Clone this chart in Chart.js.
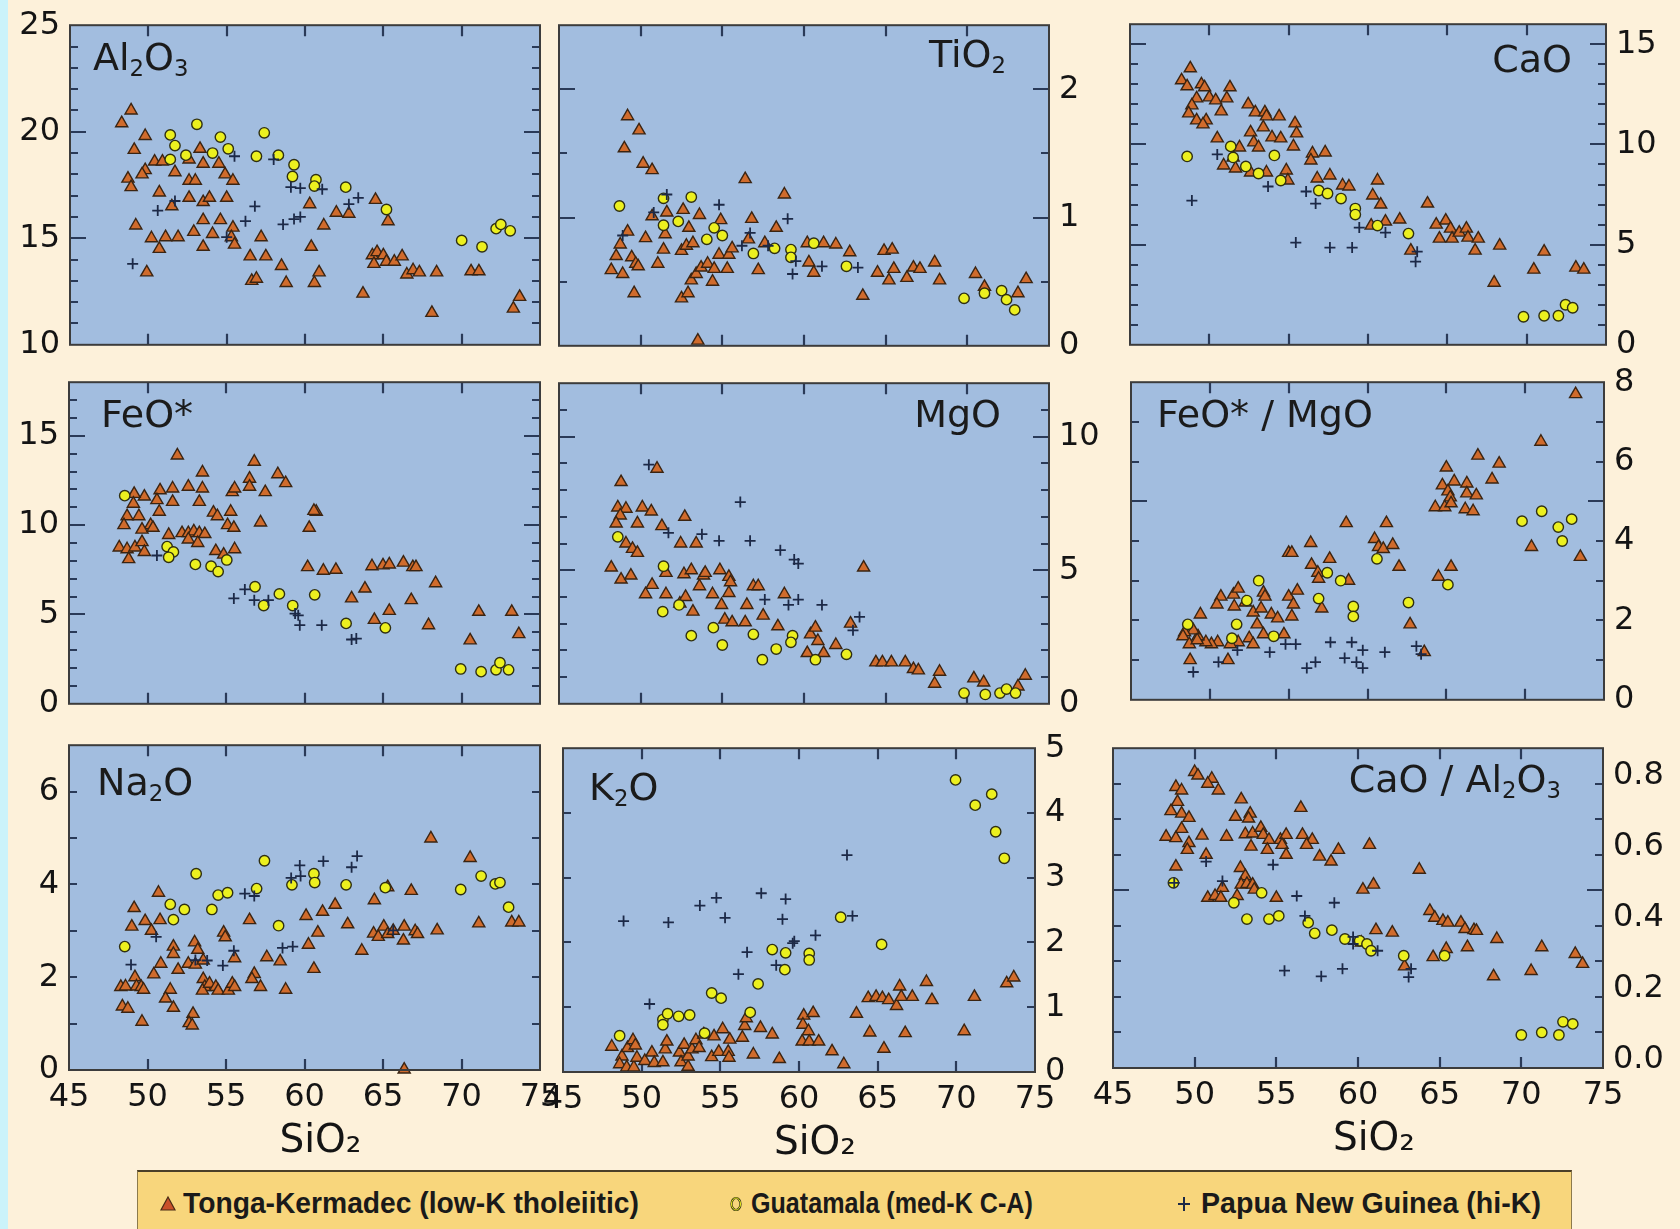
<!DOCTYPE html>
<html><head><meta charset="utf-8">
<script src="https://cdn.jsdelivr.net/npm/chart.js@4.4.1/dist/chart.umd.min.js"></script>
<style>
html,body{margin:0;padding:0;}
body{width:1680px;height:1229px;background:#fdf1da;position:relative;overflow:hidden;font-family:"DejaVu Sans",sans-serif;}
#strip{position:absolute;left:0;top:0;width:8px;height:1229px;background:#cbf3fa;}
canvas{position:absolute;}
.ttl{position:absolute;font-family:"DejaVu Sans",sans-serif;font-size:38px;line-height:38px;color:#1b1b1b;white-space:nowrap;}
.ttl sub{font-size:0.6em;vertical-align:-0.25em;line-height:0;}
#legend{position:absolute;left:137px;top:1170px;width:1433px;height:70px;background:#f8d67c;border-top:2px solid #4b3f28;border-left:1px solid #8c7a4c;border-right:1px solid #8c7a4c;}
.li{position:absolute;top:14px;font-family:"Liberation Sans Narrow","Arial Narrow","Liberation Sans",sans-serif;font-weight:bold;font-size:30px;line-height:34px;color:#1a1a1a;white-space:nowrap;transform-origin:0 50%;}
.lm{position:absolute;top:22px;}
</style>
</head><body>
<div id="strip"></div>
<script>
// ---------------- DATA (SiO2 wt% , oxide) ----------------
const sio2Ticks = [45,50,55,60,65,70,75];
const xMarks = [50,55,60,65,70];

const al2o3Labels = [10,15,20,25];
const al2o3Tonga = [[48.3,20.4],[48.9,21.0],[49.1,19.15],[49.8,19.8],[48.7,17.8],[48.9,17.4],[49.2,15.6],[49.9,13.4],[49.8,18.2],[49.6,18.0],[50.4,18.6],[50.9,18.6],[50.2,15.0],[50.7,14.5],[50.7,17.15],[51.1,15.05],[51.5,16.5],[51.7,18.1],[51.9,15.05],[52.6,16.9],[52.6,17.7],[52.6,18.7],[53.0,17.7],[52.9,15.3],[53.3,19.2],[53.5,18.5],[53.5,16.7],[53.5,15.85],[53.5,14.6],[53.9,16.9],[54.1,15.2],[54.5,18.5],[54.6,15.85],[54.9,18.0],[55.0,16.9],[55.4,17.7],[55.4,15.5],[55.3,15.05],[55.5,14.7],[56.5,14.15],[56.6,13.0],[56.9,13.1],[57.2,15.05],[57.5,14.15],[58.5,13.7],[58.8,12.9],[60.3,16.6],[60.4,14.6],[60.6,12.9],[60.9,13.4],[61.2,15.6],[62.0,16.2],[62.8,16.15],[63.7,12.4],[64.5,16.8],[65.3,15.8],[64.3,14.2],[64.4,13.8],[64.6,14.35],[65.0,14.2],[65.2,13.9],[65.7,13.9],[66.2,14.15],[66.5,13.3],[66.9,13.5],[67.3,13.4],[68.4,13.4],[68.1,11.5],[70.6,13.45],[71.1,13.45],[73.3,11.7],[73.7,12.25]];
const al2o3Guat = [[51.4,19.85],[51.7,19.35],[51.4,18.7],[52.4,18.9],[53.1,20.35],[54.1,19.0],[54.6,19.75],[55.1,19.2],[56.9,18.85],[57.4,19.95],[58.3,18.9],[59.3,18.45],[59.2,17.9],[60.7,17.75],[60.6,17.45],[62.6,17.4],[65.2,16.35],[70.0,14.9],[71.3,14.6],[72.2,15.45],[72.5,15.65],[73.1,15.35]];
const al2o3Png = [[49.0,13.8],[50.6,16.3],[51.7,16.75],[55.5,18.85],[55.0,15.05],[56.2,15.8],[56.8,16.5],[58.0,18.7],[58.6,15.65],[59.3,15.9],[59.7,16.0],[59.1,17.4],[59.7,17.35],[61.1,17.3],[62.8,16.6],[63.4,16.9]];

const tio2Labels = [0,1,2];
const tio2Tonga = [[49.2,1.79],[49.9,1.68],[49.0,1.54],[50.15,1.42],[50.7,1.37],[56.4,1.30],[58.8,1.18],[49.2,0.89],[48.75,0.79],[48.5,0.70],[48.2,0.59],[48.9,0.56],[49.45,0.69],[49.7,0.64],[49.85,0.62],[49.6,0.41],[50.3,0.84],[50.7,1.01],[51.05,0.64],[51.4,0.75],[51.5,0.87],[51.6,1.04],[52.6,1.06],[52.5,0.74],[52.95,0.92],[52.8,0.78],[53.2,0.80],[53.6,1.02],[52.5,0.37],[52.9,0.41],[53.1,0.51],[53.4,0.56],[53.7,0.61],[54.1,0.64],[54.4,0.50],[54.5,0.60],[53.5,0.04],[54.9,0.98],[54.8,0.71],[55.3,0.60],[55.4,0.71],[55.6,0.76],[56.8,0.99],[56.6,0.83],[57.2,0.59],[57.6,0.80],[58.3,0.92],[60.2,0.80],[60.3,0.65],[60.6,0.57],[61.2,0.80],[61.95,0.79],[62.8,0.73],[63.6,0.39],[64.5,0.57],[64.9,0.74],[65.4,0.75],[65.2,0.51],[65.5,0.60],[66.3,0.53],[66.7,0.61],[67.1,0.60],[68.0,0.65],[68.3,0.51],[70.5,0.56],[71.05,0.46],[73.1,0.41],[73.6,0.52]];
const tio2Guat = [[48.7,1.09],[51.4,1.15],[53.1,1.16],[51.4,0.94],[52.3,0.97],[54.05,0.83],[54.5,0.92],[55.0,0.86],[56.9,0.72],[58.2,0.76],[59.2,0.75],[59.2,0.69],[60.6,0.80],[62.6,0.62],[69.8,0.37],[71.05,0.41],[72.1,0.43],[72.4,0.36],[72.9,0.28]];
const tio2Png = [[50.8,1.04],[54.8,1.10],[51.6,1.18],[56.7,0.88],[56.2,0.78],[59.0,0.99],[57.8,0.78],[59.3,0.56],[59.5,0.66],[61.1,0.62],[63.3,0.61],[48.9,0.86]];

const caoLabels = [0,5,10,15];
const caoTonga = [[48.8,13.8],[48.25,13.2],[48.6,12.9],[49.5,13.0],[49.7,12.85],[49.2,12.3],[50.0,12.35],[50.4,12.2],[51.3,12.85],[51.1,12.3],[48.9,11.95],[48.7,11.55],[49.2,11.2],[49.8,11.2],[49.6,11.0],[50.75,11.65],[52.45,12.0],[52.9,11.6],[53.5,11.6],[53.6,11.4],[54.4,11.4],[53.4,10.85],[52.6,10.6],[52.8,10.1],[53.1,9.85],[53.95,10.35],[54.5,10.3],[55.4,11.05],[55.5,10.55],[55.3,9.9],[50.5,10.3],[51.9,9.85],[51.5,9.35],[51.65,8.8],[50.9,8.95],[52.6,8.6],[53.6,8.6],[54.85,8.7],[54.95,8.2],[56.5,9.55],[57.3,9.6],[56.4,9.2],[56.8,8.3],[57.6,8.45],[58.4,7.95],[58.8,7.9],[60.6,8.2],[60.3,7.45],[60.8,7.0],[60.2,5.95],[61.1,6.15],[62.0,6.25],[63.75,7.05],[64.3,6.0],[64.5,5.3],[64.9,6.2],[65.2,5.8],[65.3,5.3],[65.75,5.6],[66.2,5.8],[66.3,5.35],[66.95,5.3],[66.75,4.7],[68.3,4.95],[62.7,4.7],[67.95,3.1],[70.45,3.75],[71.1,4.65],[73.1,3.85],[73.6,3.75]];
const caoGuat = [[48.6,9.4],[51.35,9.9],[51.5,9.35],[52.3,8.9],[53.1,8.55],[54.1,9.45],[54.5,8.2],[56.9,7.7],[57.45,7.55],[58.3,7.3],[59.2,6.8],[59.2,6.5],[60.6,5.95],[62.55,5.55],[69.8,1.4],[71.1,1.45],[72.0,1.45],[72.45,2.0],[72.9,1.85]];
const caoPng = [[48.9,7.2],[50.5,9.5],[53.7,7.9],[56.1,7.65],[56.7,7.05],[55.45,5.1],[57.6,4.85],[59.0,4.85],[59.45,5.85],[61.1,5.6],[63.1,4.65],[63.0,4.15]];

const feoLabels = [0,5,10,15];
const feoTonga = [[51.9,13.9],[56.8,13.55],[58.3,12.85],[58.8,12.35],[53.5,12.95],[56.5,12.6],[56.5,12.15],[57.5,11.85],[52.6,12.15],[53.5,12.05],[51.6,12.05],[50.8,11.95],[49.8,11.6],[49.15,11.75],[49.1,11.2],[50.6,11.4],[51.6,11.3],[55.4,11.85],[55.55,12.05],[53.3,11.3],[54.2,10.7],[54.45,10.5],[55.3,10.75],[50.75,10.75],[48.7,10.5],[49.45,10.5],[48.5,10.0],[50.2,10.0],[49.65,9.75],[50.35,9.85],[55.1,10.0],[55.5,9.85],[57.2,10.15],[60.75,10.75],[60.6,10.8],[60.3,9.85],[51.35,9.45],[52.2,9.55],[52.6,9.55],[52.95,9.65],[53.3,9.55],[53.65,9.5],[52.6,9.2],[53.2,9.0],[48.2,8.75],[48.7,8.65],[49.2,8.75],[49.65,9.05],[48.8,8.1],[49.8,8.5],[54.35,8.55],[54.85,8.35],[55.55,8.65],[60.2,7.65],[61.2,7.45],[62.0,7.5],[64.3,7.7],[65.0,7.75],[65.4,7.8],[66.3,7.9],[66.9,7.65],[67.1,7.65],[68.35,6.75],[63.85,6.45],[63.0,5.9],[66.8,5.8],[65.4,5.2],[64.45,4.7],[67.9,4.4],[70.55,3.55],[71.1,5.15],[73.2,5.15],[73.65,3.9]];
const feoGuat = [[48.55,11.65],[51.25,8.8],[51.65,8.5],[51.35,8.2],[53.05,7.8],[54.05,7.7],[54.5,7.4],[55.05,8.05],[56.85,6.55],[57.4,5.5],[58.4,6.15],[59.25,5.5],[60.65,6.1],[62.65,4.5],[65.15,4.25],[69.95,1.95],[71.25,1.8],[72.2,1.9],[72.45,2.3],[73.0,1.9]];
const feoPng = [[50.6,8.3],[55.5,5.9],[56.2,6.4],[56.8,5.8],[57.7,5.8],[59.4,5.05],[59.7,4.4],[59.6,4.95],[61.1,4.4],[63.0,3.6],[63.3,3.65]];

const mgoLabels = [0,5,10];
const mgoTonga = [[48.8,8.3],[51.0,8.8],[48.6,7.35],[49.1,7.3],[48.75,7.05],[48.5,6.75],[50.1,7.35],[50.65,7.2],[49.8,6.75],[51.3,6.65],[52.7,7.0],[52.45,6.0],[53.4,6.0],[49.1,6.0],[49.5,5.8],[49.8,5.65],[48.2,5.1],[48.8,4.65],[49.4,4.8],[50.7,4.45],[50.3,4.1],[51.55,4.9],[51.55,4.1],[52.4,3.75],[52.65,4.85],[53.1,5.0],[52.75,4.0],[53.2,3.45],[53.6,4.4],[53.85,4.8],[53.95,4.9],[54.4,4.1],[54.85,5.0],[54.95,3.7],[55.4,4.75],[55.4,4.15],[55.5,4.55],[55.15,3.15],[55.6,3.05],[56.4,3.05],[56.5,3.7],[56.9,4.4],[57.2,4.4],[57.5,3.3],[58.4,2.9],[58.8,4.1],[60.4,2.6],[60.7,2.85],[60.85,2.35],[60.2,1.9],[61.2,1.9],[61.95,2.2],[62.85,3.0],[63.65,5.1],[64.4,1.55],[64.8,1.55],[65.35,1.55],[66.2,1.55],[66.7,1.3],[67.0,1.25],[68.3,1.2],[68.0,0.75],[70.4,0.95],[71.0,0.8],[73.1,0.65],[73.55,1.05]];
const mgoGuat = [[48.6,6.25],[51.4,5.15],[51.35,3.45],[52.35,3.7],[53.1,2.55],[54.45,2.85],[55.0,2.2],[56.9,2.6],[57.45,1.65],[58.3,2.05],[59.3,2.55],[59.2,2.3],[60.7,1.65],[62.6,1.85],[69.8,0.4],[71.1,0.35],[72.0,0.4],[72.4,0.55],[72.95,0.4]];
const mgoPng = [[50.5,8.95],[56.1,7.55],[51.7,6.4],[53.75,6.35],[54.8,6.1],[56.7,6.1],[58.55,5.75],[59.4,5.4],[59.65,5.25],[57.6,3.9],[59.05,3.7],[59.65,3.9],[61.1,3.7],[63.4,3.25],[63.0,2.75]];

const feoMgoLabels = [0,2,4,6,8];
const feoMgoTonga = [[73.2,7.7],[71.0,6.5],[67.0,6.15],[68.35,5.95],[67.9,5.55],[65.0,5.85],[65.5,5.5],[66.3,5.45],[64.75,5.4],[65.1,5.25],[65.25,5.1],[66.3,5.2],[66.9,5.15],[64.3,4.85],[64.9,4.85],[65.3,4.95],[66.2,4.8],[66.7,4.75],[58.65,4.45],[61.2,4.45],[60.45,4.05],[60.7,3.85],[61.0,3.8],[61.6,3.9],[56.4,3.95],[55.0,3.7],[55.2,3.7],[56.45,3.4],[57.6,3.55],[56.85,3.2],[56.9,3.05],[58.8,3.0],[62.0,3.35],[64.5,3.1],[65.3,3.35],[70.4,3.85],[73.5,3.6],[57.1,2.3],[62.7,1.9],[63.6,1.2],[55.0,2.6],[55.55,2.75],[55.3,2.4],[55.2,2.1],[54.7,1.65],[50.7,2.6],[50.45,2.4],[51.5,2.65],[51.8,2.8],[51.55,2.35],[49.4,2.15],[52.25,2.45],[52.75,2.2],[53.25,2.3],[53.4,2.7],[53.5,2.6],[53.9,2.15],[54.3,2.05],[53.0,1.9],[53.4,1.65],[52.5,1.55],[52.75,1.4],[51.8,1.45],[51.3,1.4],[50.5,1.45],[50.1,1.4],[49.75,1.45],[49.25,1.6],[48.95,1.75],[48.4,1.7],[48.3,1.6],[48.7,1.4],[49.2,1.5],[48.75,1.0],[51.15,1.0]];
const feoMgoGuat = [[48.6,1.9],[51.7,1.9],[51.4,1.55],[52.35,2.5],[53.1,3.0],[54.05,1.6],[56.9,2.55],[57.45,3.2],[58.3,3.0],[59.1,2.35],[59.1,2.1],[60.6,3.55],[62.6,2.45],[65.1,2.9],[69.8,4.5],[71.05,4.75],[72.1,4.35],[72.35,4.0],[72.95,4.55]];
const feoMgoPng = [[48.95,0.7],[50.55,0.95],[51.75,1.25],[53.8,1.2],[54.8,1.4],[55.45,1.4],[56.15,0.8],[56.7,0.95],[57.65,1.45],[58.55,1.05],[59.0,1.45],[59.3,0.95],[59.7,1.25],[59.7,0.8],[61.1,1.2],[63.1,1.35],[63.4,1.15]];

const na2oLabels = [0,2,4,6];
const na2oTonga = [[68.05,4.99],[70.55,4.57],[50.7,3.82],[49.15,3.49],[49.0,3.09],[49.85,3.21],[50.25,3.0],[50.8,3.23],[51.65,2.66],[51.65,2.5],[51.95,2.16],[50.85,2.29],[50.4,2.06],[53.0,2.75],[53.2,2.59],[52.6,2.29],[53.05,2.27],[53.55,2.36],[48.3,1.79],[48.6,1.8],[49.2,2.0],[49.3,1.8],[49.6,1.79],[49.75,1.73],[51.45,1.73],[51.15,1.54],[48.4,1.37],[48.75,1.32],[51.65,1.34],[49.65,1.04],[52.9,1.21],[52.65,1.01],[52.85,0.96],[53.55,1.96],[53.65,1.79],[53.5,1.71],[53.95,1.86],[54.35,1.79],[54.5,1.71],[55.15,1.71],[55.4,1.86],[55.55,1.79],[54.85,2.96],[54.95,2.86],[55.55,2.41],[56.5,3.23],[56.8,2.07],[56.65,1.96],[57.2,1.79],[57.6,2.43],[58.45,2.34],[58.8,1.73],[60.1,3.32],[60.25,2.7],[60.85,2.96],[60.6,2.18],[61.15,3.41],[61.95,3.56],[62.75,3.14],[63.65,2.57],[64.45,3.66],[65.3,3.94],[66.8,3.86],[64.4,2.94],[64.7,2.87],[65.05,3.09],[65.3,2.93],[65.65,3.0],[66.35,3.09],[66.3,2.79],[67.05,2.99],[67.2,2.93],[68.45,3.01],[71.1,3.16],[73.2,3.18],[73.65,3.18],[66.35,0.01]];
const na2oGuat = [[48.55,2.66],[51.45,3.57],[51.65,3.24],[52.35,3.46],[53.1,4.23],[54.1,3.46],[54.5,3.77],[55.1,3.82],[56.95,3.91],[57.45,4.51],[58.35,3.11],[59.2,3.99],[60.6,4.23],[60.65,4.04],[62.65,3.99],[65.15,3.93],[69.95,3.89],[71.25,4.18],[72.15,4.01],[72.45,4.04],[73.0,3.51]];
const na2oPng = [[48.95,2.27],[50.55,2.87],[53.05,2.37],[53.8,2.36],[54.8,2.25],[55.5,2.57],[56.2,3.8],[56.8,3.75],[58.6,2.63],[59.25,2.66],[59.15,4.14],[59.7,4.41],[59.75,4.18],[61.2,4.5],[63.0,4.37],[63.35,4.61],[65.65,3.01]];

const k2oLabels = [0,1,2,3,4,5];
const k2oTonga = [[48.1,0.39],[48.75,0.24],[49.1,0.37],[49.45,0.49],[49.6,0.41],[48.6,0.12],[49.05,0.07],[49.5,0.07],[49.7,0.22],[50.2,0.17],[50.65,0.30],[50.8,0.14],[51.35,0.15],[51.5,0.35],[51.6,0.47],[52.4,0.30],[52.5,0.15],[52.7,0.42],[52.95,0.08],[52.95,0.24],[53.2,0.35],[53.45,0.49],[53.65,0.37],[53.95,0.58],[54.45,0.23],[54.6,0.55],[54.9,0.31],[55.15,0.66],[55.5,0.31],[55.55,0.22],[55.6,0.5],[56.4,0.53],[56.55,0.71],[56.65,0.83],[57.1,0.27],[57.55,0.68],[58.3,0.58],[58.75,0.2],[60.2,0.47],[60.3,0.87],[60.25,0.73],[60.6,0.63],[60.9,0.91],[60.65,0.47],[61.25,0.47],[62.1,0.32],[62.85,0.12],[63.65,0.90],[64.4,1.14],[64.5,0.61],[64.9,1.16],[65.3,1.14],[65.4,0.36],[65.7,1.11],[66.2,1.02],[66.4,1.32],[66.5,1.16],[66.75,0.6],[67.2,1.16],[68.1,1.39],[68.45,1.11],[70.5,0.63],[71.15,1.16],[73.2,1.37],[73.65,1.46]];
const k2oGuat = [[48.6,0.56],[51.35,0.81],[51.35,0.73],[51.65,0.90],[52.35,0.86],[53.05,0.88],[54.0,0.60],[54.45,1.22],[55.05,1.14],[56.9,0.92],[57.4,1.36],[58.3,1.89],[59.15,1.84],[59.1,1.58],[60.65,1.83],[60.65,1.73],[62.65,2.39],[65.25,1.97],[69.95,4.51],[71.2,4.12],[72.25,4.29],[72.5,3.71],[73.05,3.3]];
const k2oPng = [[48.85,2.33],[51.7,2.31],[50.5,1.05],[53.7,2.57],[54.75,2.69],[55.3,2.38],[56.15,1.51],[56.7,1.85],[57.6,2.76],[59.15,2.67],[58.95,2.36],[59.7,2.02],[59.6,1.99],[61.05,2.11],[58.55,1.65],[63.05,3.35],[63.4,2.41]];

const caoAlLabels = [0,0.2,0.4,0.6,0.8];
const caoAlTonga = [[50.0,0.833],[50.2,0.823],[51.05,0.814],[50.8,0.80],[51.45,0.781],[48.85,0.791],[49.2,0.781],[48.95,0.749],[48.55,0.723],[49.2,0.716],[49.65,0.704],[52.85,0.756],[52.5,0.707],[53.4,0.716],[53.3,0.702],[56.5,0.732],[48.25,0.651],[48.85,0.647],[49.2,0.673],[50.45,0.654],[49.65,0.633],[49.55,0.614],[50.7,0.60],[51.95,0.651],[53.1,0.658],[53.55,0.660],[53.45,0.623],[54.05,0.676],[54.2,0.656],[54.55,0.642],[54.45,0.614],[55.25,0.642],[55.6,0.656],[55.35,0.628],[55.6,0.60],[56.6,0.656],[57.2,0.642],[56.85,0.628],[57.65,0.595],[58.35,0.581],[58.8,0.614],[60.7,0.628],[48.85,0.567],[52.8,0.563],[53.1,0.540],[52.85,0.516],[53.2,0.518],[53.55,0.516],[53.65,0.502],[51.7,0.507],[50.8,0.479],[51.25,0.484],[51.6,0.479],[52.6,0.484],[55.0,0.479],[60.3,0.502],[60.95,0.516],[63.75,0.558],[64.4,0.442],[64.7,0.423],[65.2,0.414],[65.5,0.409],[66.3,0.409],[66.55,0.391],[67.1,0.388],[67.25,0.386],[68.5,0.363],[61.1,0.388],[62.1,0.381],[60.2,0.353],[65.4,0.335],[64.6,0.312],[66.7,0.340],[62.85,0.286],[68.3,0.258],[70.6,0.273],[71.25,0.340],[73.3,0.321],[73.75,0.293]];
const caoAlGuat = [[48.7,0.521],[52.4,0.465],[53.2,0.419],[54.1,0.493],[54.55,0.419],[55.15,0.428],[56.95,0.409],[57.35,0.379],[58.4,0.388],[59.2,0.363],[60.1,0.358],[60.55,0.349],[60.8,0.330],[62.8,0.316],[65.3,0.316],[70.0,0.093],[71.25,0.10],[72.3,0.093],[72.55,0.130],[73.15,0.124]];
const caoAlPng = [[48.75,0.521],[50.7,0.581],[51.7,0.526],[54.8,0.572],[56.25,0.484],[58.55,0.465],[56.75,0.428],[59.7,0.369],[59.7,0.349],[61.2,0.330],[55.5,0.274],[57.75,0.258],[59.05,0.279],[63.25,0.279],[63.1,0.256]];

const seriesNames = ['Tonga-Kermadec (low-K tholeiitic)','Guatamala (med-K C-A)','Papua New Guinea (hi-K)'];

// ---------------- STYLE / LAYOUT ----------------
const PANEL_BG = '#a2bddf';
const TRI_FILL = '#d06b2c', TRI_EDGE = '#3a2412';
const CIR_FILL = '#ecf01f', CIR_EDGE = '#2f2f12';
const PLUS_COL = '#1c2947';
const TICK_COL = '#2a3a58';
const FRAME_COL = '#3c3c3c';
Chart.defaults.font.family = '"DejaVu Sans", sans-serif';

const panels = [
 {rect:[70,22,540,348],  side:'left',  bottom:false, ymin:10, ymax:25,  minor:1,   major:5,   labels:al2o3Labels, dec:0, d:[al2o3Tonga,al2o3Guat,al2o3Png]},
 {rect:[559,22,1049,349],side:'right', bottom:false, ymin:0,  ymax:2.5, minor:0.5, major:1,   labels:tio2Labels,  dec:0, d:[tio2Tonga,tio2Guat,tio2Png]},
 {rect:[1130,21,1606,348],side:'right',bottom:false, ymin:0,  ymax:16,  minor:1,   major:5,   labels:caoLabels,   dec:0, d:[caoTonga,caoGuat,caoPng]},
 {rect:[69,379,540,707], side:'left',  bottom:false, ymin:0,  ymax:18,  minor:1,   major:5,   labels:feoLabels,   dec:0, d:[feoTonga,feoGuat,feoPng]},
 {rect:[559,380,1049,707],side:'right',bottom:false, ymin:0,  ymax:12,  minor:1,   major:5,   labels:mgoLabels,   dec:0, d:[mgoTonga,mgoGuat,mgoPng]},
 {rect:[1131,379,1604,703],side:'right',bottom:false,ymin:0,  ymax:8,   minor:1,   major:5,   labels:feoMgoLabels,dec:0, d:[feoMgoTonga,feoMgoGuat,feoMgoPng]},
 {rect:[69,742,540,1070],side:'left',  bottom:true,  ymin:0,  ymax:7,   minor:1,   major:99,  labels:na2oLabels,  dec:0, d:[na2oTonga,na2oGuat,na2oPng]},
 {rect:[563,745,1035,1072],side:'right',bottom:true, ymin:0,  ymax:5,   minor:1,   major:99,  labels:k2oLabels,   dec:0, d:[k2oTonga,k2oGuat,k2oPng]},
 {rect:[1113,745,1603,1068],side:'right',bottom:true,ymin:0,  ymax:0.9, minor:0.1, major:0.5, labels:caoAlLabels, dec:1, d:[caoAlTonga,caoAlGuat,caoAlPng], lift:8}
];

const deco = {
  id:'deco',
  beforeDatasetsDraw(chart){
    const {ctx, chartArea:a, scales:{x,y}} = chart;
    const p = chart.options.plugins.deco.panel;
    ctx.save();
    ctx.fillStyle = PANEL_BG;
    ctx.fillRect(a.left, a.top, a.right-a.left, a.bottom-a.top);
    ctx.strokeStyle = TICK_COL; ctx.lineWidth = 2.2;
    ctx.beginPath();
    xMarks.forEach(v=>{
      const px = Math.round(x.getPixelForValue(v));
      ctx.moveTo(px, a.top); ctx.lineTo(px, a.top+11);
      ctx.moveTo(px, a.bottom); ctx.lineTo(px, a.bottom-11);
    });
    const n = Math.round((p.ymax-p.ymin)/p.minor);
    for(let i=1;i<n;i++){
      const v = p.ymin + i*p.minor;
      const isMaj = Math.abs(v/p.major - Math.round(v/p.major))<1e-6;
      const len = isMaj ? 16 : 8;
      const py = Math.round(y.getPixelForValue(v));
      ctx.moveTo(a.left, py); ctx.lineTo(a.left+len, py);
      ctx.moveTo(a.right, py); ctx.lineTo(a.right-len, py);
    }
    ctx.stroke();
    ctx.restore();
  },
  afterDraw(chart){
    const {ctx, chartArea:a} = chart;
    ctx.save();
    ctx.strokeStyle = FRAME_COL; ctx.lineWidth = 2;
    ctx.strokeRect(a.left, a.top, a.right-a.left, a.bottom-a.top);
    ctx.restore();
  }
};

function makePanel(p){
  const PT=26, PL=30, PR=30, YW=80, XH=95;
  const PB = p.bottom ? 4 : 26;
  const [x0,y0,x1,y1] = p.rect;
  const left = x0 - PL - (p.side==='left'?YW:0);
  const right = x1 + PR + (p.side==='right'?YW:0);
  const top = y0 - PT;
  const bottom = y1 + (p.bottom?XH:0) + PB;
  const cv = document.createElement('canvas');
  cv.width = right-left; cv.height = bottom-top;
  cv.style.left = left+'px'; cv.style.top = top+'px';
  document.body.appendChild(cv);
  new Chart(cv, {
    type:'scatter',
    data:{datasets:[
      {label:seriesNames[2], data:p.d[2], pointStyle:'cross', pointRadius:5.5, borderColor:PLUS_COL, backgroundColor:PLUS_COL, borderWidth:1.8, clip:false},
      {label:seriesNames[1], data:p.d[1], pointStyle:'circle', pointRadius:5.2, backgroundColor:CIR_FILL, borderColor:CIR_EDGE, borderWidth:1.4, clip:false},
      {label:seriesNames[0], data:p.d[0], pointStyle:'triangle', pointRadius:7, backgroundColor:TRI_FILL, borderColor:TRI_EDGE, borderWidth:1.4, clip:false}
    ]},
    options:{
      responsive:false, animation:false, devicePixelRatio:1, events:[],
      layout:{padding:{top:PT,bottom:PB,left:PL,right:PR}},
      plugins:{legend:{display:false}, tooltip:{enabled:false}, deco:{panel:p}},
      scales:{
        x:{type:'linear', position:'bottom', min:45, max:75, display:p.bottom,
           afterBuildTicks:s=>{ s.ticks = sio2Ticks.map(v=>({value:v})); },
           afterFit:s=>{ if(p.bottom) s.height = XH; },
           grid:{display:false, drawTicks:false}, border:{display:false},
           ticks:{font:{size:32}, color:'#141414', padding:8, maxRotation:0, autoSkip:false},
           title:{display:true, text:'\u2002 SiO₂', font:{size:39}, color:'#141414', padding:0}},
        y:{type:'linear', position:p.side, min:p.ymin, max:p.ymax,
           afterBuildTicks:s=>{ s.ticks = p.labels.map(v=>({value:v})); },
           afterFit:s=>{ s.width = YW; },
           grid:{display:false, drawTicks:false}, border:{display:false},
           ticks:{font:{size:32}, color:'#141414', padding:10, autoSkip:false,
                  labelOffset: p.lift ? -p.lift : 0,
                  callback:v=> p.dec ? Number(v).toFixed(p.dec) : String(v)}}
      }
    },
    plugins:[deco]
  });
}
panels.forEach(makePanel);
</script>

<div class="ttl" style="left:93px;top:38px">Al<sub>2</sub>O<sub>3</sub></div>
<div class="ttl" style="right:674px;top:35px">TiO<sub>2</sub></div>
<div class="ttl" style="right:108px;top:40px">CaO</div>
<div class="ttl" style="left:101px;top:395px">FeO*</div>
<div class="ttl" style="right:679px;top:395px">MgO</div>
<div class="ttl" style="left:1157px;top:395px">FeO* / MgO</div>
<div class="ttl" style="left:97px;top:763px">Na<sub>2</sub>O</div>
<div class="ttl" style="left:589px;top:768px">K<sub>2</sub>O</div>
<div class="ttl" style="right:119px;top:760px">CaO / Al<sub>2</sub>O<sub>3</sub></div>

<div id="legend">
  <svg class="lm" style="left:20px" width="20" height="20"><polygon points="10,3 17,16 3,16" fill="#c9502a" stroke="#4a2a15" stroke-width="1.2"/></svg>
  <div class="li" data-w="456" style="left:45px">Tonga-Kermadec (low-K tholeiitic)</div>
  <svg class="lm" style="left:588px" width="20" height="20"><ellipse cx="10" cy="10" rx="4.5" ry="6" fill="none" stroke="#2f2f12" stroke-width="2.2"/><ellipse cx="10" cy="10" rx="4.5" ry="6" fill="none" stroke="#ecf01f" stroke-width="1"/></svg>
  <div class="li" data-w="282" style="left:613px">Guatamala (med-K C-A)</div>
  <svg class="lm" style="left:1036px" width="20" height="20"><path d="M10 3 V17 M4 10 H16" stroke="#1c2947" stroke-width="2"/></svg>
  <div class="li" data-w="340" style="left:1063px">Papua New Guinea (hi-K)</div>
</div>
<script>
document.querySelectorAll('.li').forEach(el=>{
  const w = el.getBoundingClientRect().width;
  const target = +el.dataset.w;
  if (w > 0) el.style.transform = 'scaleX(' + (target / w).toFixed(3) + ')';
});
</script>
</body></html>
